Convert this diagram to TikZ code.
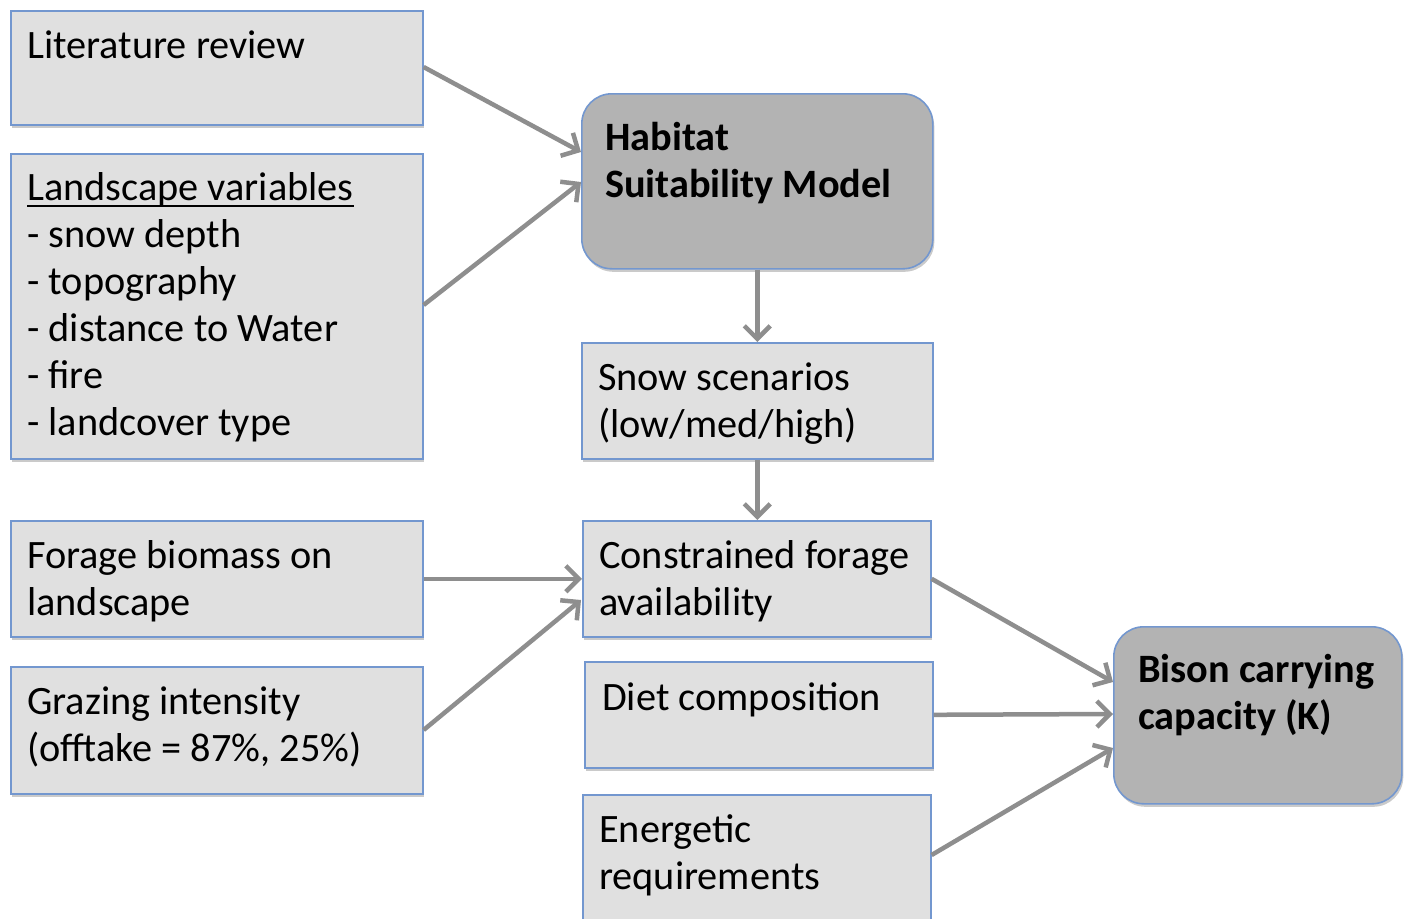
\documentclass[tikz,border=0pt]{standalone}
\usepackage{fontspec}
\setmainfont{Carlito}
\usetikzlibrary{arrows.meta,shadows}
\definecolor{boxfill}{HTML}{E0E0E0}
\definecolor{darkfill}{HTML}{B3B3B3}
\definecolor{boxline}{HTML}{7397CF}
\definecolor{arrowc}{HTML}{8E8E8E}
\newcommand{\ulx}[1]{\leavevmode\setbox0=\hbox{#1}\rlap{\rule[-7pt]{\wd0}{2pt}}\box0}
\tikzset{
  pbox/.style={draw=boxline, line width=1.6pt, fill=boxfill, inner sep=0pt, anchor=north west,
    drop shadow={shadow xshift=1.5pt, shadow yshift=-3pt, opacity=0.35, fill=black!60}},
  rbox/.style={pbox, fill=darkfill, rounded corners=30pt},
  txt/.style={inner sep=0pt, anchor=base west, font=\fontsize{40.3}{47}\selectfont},
  btxt/.style={txt, font=\fontsize{40.3}{47}\selectfont\bfseries},
  conn/.style={draw=arrowc, line width=4.5pt, -{Straight Barb[length=13pt, width=26pt, line width=4.5pt]}}
}
\newcommand{\pb}[1]{\parbox[t]{12cm}{\raggedright #1}}
\begin{document}
\begin{tikzpicture}[x=1pt,y=-1pt]
\useasboundingbox (0,0) rectangle (1405,918);
% boxes
\node[pbox, minimum width=412pt, minimum height=114pt] (lit) at (10,10) {};
\node[pbox, minimum width=412pt, minimum height=305pt] (land) at (10,153) {};
\node[pbox, minimum width=412pt, minimum height=116pt] (forage) at (10,520) {};
\node[pbox, minimum width=412pt, minimum height=127pt] (graz) at (10,666) {};
\node[rbox, minimum width=351pt, minimum height=175pt] (hsm) at (581,93) {};
\node[pbox, minimum width=351pt, minimum height=116pt] (snow) at (581,342) {};
\node[pbox, minimum width=348pt, minimum height=116pt] (cons) at (582,520) {};
\node[pbox, minimum width=348pt, minimum height=106pt] (diet) at (584,661) {};
\node[pbox, minimum width=348pt, minimum height=125pt] (ener) at (582,794) {};
\node[rbox, minimum width=288pt, minimum height=177pt] (bison) at (1113,626) {};
% texts
\node[txt] (lit-t) at (27,58) {\pb{Literature review}};
\node[txt] (land-t) at (27,200) {\pb{\ulx{Landscape variables}\\- snow depth\\- topography\\- distance to Water\\- fire\\- landcover type}};
\node[txt] (forage-t) at (27,568) {\pb{Forage biomass on\\landscape}};
\node[txt] (graz-t) at (27,714) {\pb{Grazing intensity\\(offtake = 87\%, 25\%)}};
\node[btxt] (hsm-t) at (605,150) {\pb{Habitat\\Suitability Model}};
\node[txt] (snow-t) at (598,390) {\pb{Snow scenarios\\(low/med/high)}};
\node[txt] (cons-t) at (599,568) {\pb{Constrained forage\\availability}};
\node[txt] (diet-t) at (602,710) {\pb{Diet composition}};
\node[txt] (ener-t) at (599,842) {\pb{Energetic\\requirements}};
\node[btxt] (bison-t) at (1138,682) {\pb{Bison carrying\\capacity (K)}};
% connectors
\coordinate (h1) at (581,152);
\coordinate (h2) at (581,182);
\draw[conn] (lit.north east |- 0,67) -- (h1);
\draw[conn] (land.north east |- 0,305) -- (h2);
\draw[conn] (hsm.south) -- (snow.north);
\draw[conn] (snow.south) -- (snow.south |- cons.north);
\draw[conn] (forage.east) -- (cons.west |- forage.east);
\coordinate (c2) at (581,600);
\draw[conn] (graz.north east |- 0,730) -- (c2);
\coordinate (b1) at (1113,682);
\coordinate (b2) at (1113,714);
\coordinate (b3) at (1113,748);
\draw[conn] (cons.east) -- (b1);
\draw[conn] (diet.east) -- (b2);
\draw[conn] (ener.north east |- 0,855) -- (b3);
\end{tikzpicture}
\end{document}
